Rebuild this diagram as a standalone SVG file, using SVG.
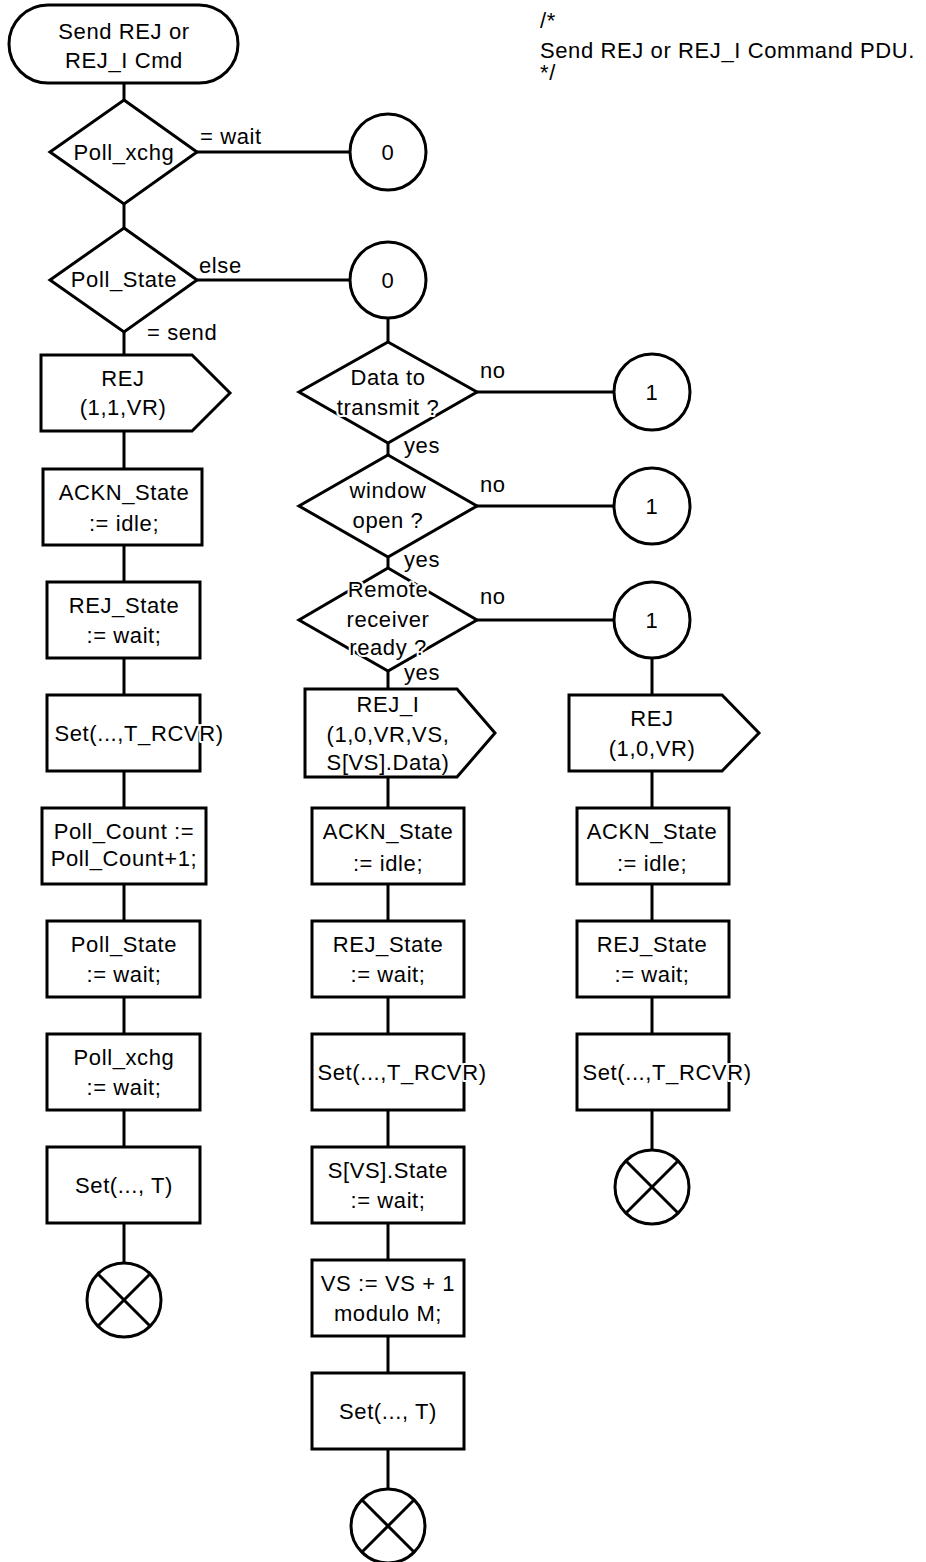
<svg xmlns="http://www.w3.org/2000/svg" width="926" height="1562" viewBox="0 0 926 1562">
<style>
.s{fill:#fff;stroke:#000;stroke-width:3;stroke-linejoin:miter}
.l{fill:none;stroke:#000;stroke-width:3}
text{font-family:"Liberation Sans",Arial,sans-serif;font-size:22px;letter-spacing:0.6px;fill:#000}
.c{text-anchor:middle}
.h{stroke:#fff;stroke-width:4px;paint-order:stroke;stroke-linejoin:round}
</style>
<rect width="926" height="1562" fill="#fff"/>
<g id="connectors" class="l">
<line x1="124" y1="83" x2="124" y2="100"/>
<line x1="124" y1="204" x2="124" y2="228"/>
<line x1="124" y1="332" x2="124" y2="1263"/>
<line x1="197" y1="152" x2="350" y2="152"/>
<line x1="197" y1="280" x2="350" y2="280"/>
<line x1="388" y1="318" x2="388" y2="1489"/>
<line x1="477" y1="392" x2="614" y2="392"/>
<line x1="477" y1="506" x2="614" y2="506"/>
<line x1="477" y1="620" x2="614" y2="620"/>
<line x1="652" y1="658" x2="652" y2="1150"/>
</g>
<g id="comment">
<text x="540" y="28">/*</text>
<text x="540" y="58">Send REJ or REJ_I Command PDU.</text>
<text x="540" y="80">*/</text>
</g>
<g id="start">
<rect class="s" x="9" y="5" width="229" height="78" rx="39"/>
<text class="c" x="124" y="39">Send REJ or</text>
<text class="c" x="124" y="68">REJ_I Cmd</text>
</g>
<g id="d_poll_xchg">
<polygon class="s" points="124,100 197,152 124,204 50,152"/>
<text class="c" x="124" y="160">Poll_xchg</text>
<text x="200" y="144">= wait</text>
</g>
<g id="c0a">
<circle class="s" cx="388" cy="152" r="38"/>
<text class="c" x="388" y="160">0</text>
</g>
<g id="d_poll_state">
<polygon class="s" points="124,228 197,280 124,332 50,280"/>
<text class="c" x="124" y="287">Poll_State</text>
<text x="199" y="273">else</text>
<text x="147" y="340">= send</text>
</g>
<g id="c0b">
<circle class="s" cx="388" cy="280" r="38"/>
<text class="c" x="388" y="288">0</text>
</g>
<g id="l_rej">
<polygon class="s" points="41,355 192,355 230,393 192,431 41,431"/>
<text class="c" x="123" y="386">REJ</text>
<text class="c" x="123" y="415">(1,1,VR)</text>
</g>
<g id="l_ackn">
<rect class="s" x="43" y="469" width="159" height="76"/>
<text class="c" x="124" y="500">ACKN_State</text>
<text class="c" x="124" y="531">:= idle;</text>
</g>
<g id="l_rejstate">
<rect class="s" x="47" y="582" width="153" height="76"/>
<text class="c" x="124" y="613">REJ_State</text>
<text class="c" x="124" y="643">:= wait;</text>
</g>
<g id="l_set1">
<rect class="s" x="47" y="695" width="153" height="76"/>
<text class="c h" x="139" y="741">Set(...,T_RCVR)</text>
</g>
<g id="l_pollcount">
<rect class="s" x="42" y="808" width="164" height="76"/>
<text class="c" x="124" y="839">Poll_Count :=</text>
<text class="c" x="124" y="866">Poll_Count+1;</text>
</g>
<g id="l_pollstate">
<rect class="s" x="47" y="921" width="153" height="76"/>
<text class="c" x="124" y="952">Poll_State</text>
<text class="c" x="124" y="982">:= wait;</text>
</g>
<g id="l_pollxchg">
<rect class="s" x="47" y="1034" width="153" height="76"/>
<text class="c" x="124" y="1065">Poll_xchg</text>
<text class="c" x="124" y="1095">:= wait;</text>
</g>
<g id="l_set2">
<rect class="s" x="47" y="1147" width="153" height="76"/>
<text class="c" x="124" y="1193">Set(..., T)</text>
</g>
<g id="l_stop">
<circle class="s" cx="124" cy="1300" r="37"/>
<line class="l" x1="98" y1="1274" x2="150" y2="1326"/>
<line class="l" x1="150" y1="1274" x2="98" y2="1326"/>
</g>
<g id="d_data">
<polygon class="s" points="388,342 477,392 388,443 299,392"/>
<text class="c" x="388" y="385">Data to</text>
<text class="c h" x="388" y="415">transmit ?</text>
<text x="480" y="378">no</text>
<text x="404" y="453">yes</text>
</g>
<g id="c1a">
<circle class="s" cx="652" cy="392" r="38"/>
<text class="c" x="652" y="400">1</text>
</g>
<g id="d_window">
<polygon class="s" points="388,455 477,506 388,557 299,506"/>
<text class="c" x="388" y="498">window</text>
<text class="c" x="388" y="528">open ?</text>
<text x="480" y="492">no</text>
<text x="404" y="567">yes</text>
</g>
<g id="c1b">
<circle class="s" cx="652" cy="506" r="38"/>
<text class="c" x="652" y="514">1</text>
</g>
<g id="d_remote">
<polygon class="s" points="388,568 477,620 388,671 299,620"/>
<text class="c h" x="388" y="597">Remote</text>
<text class="c" x="388" y="627">receiver</text>
<text class="c h" x="388" y="655">ready ?</text>
<text x="480" y="604">no</text>
<text x="404" y="680">yes</text>
</g>
<g id="c1c">
<circle class="s" cx="652" cy="620" r="38"/>
<text class="c" x="652" y="628">1</text>
</g>
<g id="m_reji">
<polygon class="s" points="305,689 457,689 495,733 457,777 305,777"/>
<text class="c" x="388" y="712">REJ_I</text>
<text class="c" x="388" y="742">(1,0,VR,VS,</text>
<text class="c" x="388" y="770">S[VS].Data)</text>
</g>
<g id="m_ackn">
<rect class="s" x="312" y="808" width="152" height="76"/>
<text class="c" x="388" y="839">ACKN_State</text>
<text class="c" x="388" y="871">:= idle;</text>
</g>
<g id="m_rejstate">
<rect class="s" x="312" y="921" width="152" height="76"/>
<text class="c" x="388" y="952">REJ_State</text>
<text class="c" x="388" y="982">:= wait;</text>
</g>
<g id="m_set1">
<rect class="s" x="312" y="1034" width="152" height="76"/>
<text class="c h" x="402" y="1080">Set(...,T_RCVR)</text>
</g>
<g id="m_svs">
<rect class="s" x="312" y="1147" width="152" height="76"/>
<text class="c" x="388" y="1178">S[VS].State</text>
<text class="c" x="388" y="1208">:= wait;</text>
</g>
<g id="m_vs">
<rect class="s" x="312" y="1260" width="152" height="76"/>
<text class="c" x="388" y="1291">VS := VS + 1</text>
<text class="c" x="388" y="1321">modulo M;</text>
</g>
<g id="m_set2">
<rect class="s" x="312" y="1373" width="152" height="76"/>
<text class="c" x="388" y="1419">Set(..., T)</text>
</g>
<g id="m_stop">
<circle class="s" cx="388" cy="1526" r="37"/>
<line class="l" x1="362" y1="1500" x2="414" y2="1552"/>
<line class="l" x1="414" y1="1500" x2="362" y2="1552"/>
</g>
<g id="r_rej">
<polygon class="s" points="569,695 722,695 759,733 722,771 569,771"/>
<text class="c" x="652" y="726">REJ</text>
<text class="c" x="652" y="756">(1,0,VR)</text>
</g>
<g id="r_ackn">
<rect class="s" x="577" y="808" width="152" height="76"/>
<text class="c" x="652" y="839">ACKN_State</text>
<text class="c" x="652" y="871">:= idle;</text>
</g>
<g id="r_rejstate">
<rect class="s" x="577" y="921" width="152" height="76"/>
<text class="c" x="652" y="952">REJ_State</text>
<text class="c" x="652" y="982">:= wait;</text>
</g>
<g id="r_set">
<rect class="s" x="577" y="1034" width="152" height="76"/>
<text class="c h" x="667" y="1080">Set(...,T_RCVR)</text>
</g>
<g id="r_stop">
<circle class="s" cx="652" cy="1187" r="37"/>
<line class="l" x1="626" y1="1161" x2="678" y2="1213"/>
<line class="l" x1="678" y1="1161" x2="626" y2="1213"/>
</g>
</svg>
